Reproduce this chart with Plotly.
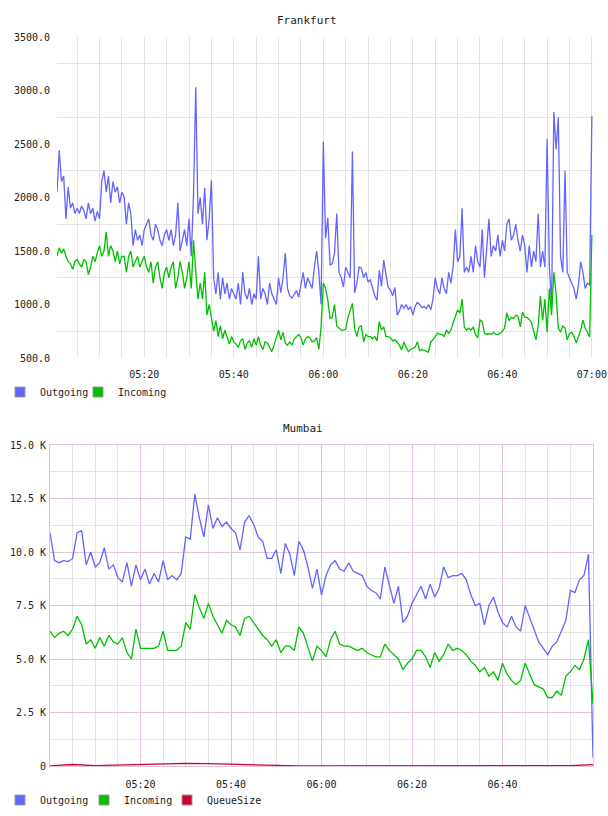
import numpy as np
import pandas as pd
import plotly.graph_objects as go

# ---------------- data ----------------
base = pd.Timestamp("2024-01-01 05:00:00")

# Frankfurt: samples every 30 s from 05:00:30 to 07:00:00
fra_minutes = np.arange(1, 241) * 0.5
fra_time = base + pd.to_timedelta(fra_minutes, unit="m")

fra_outgoing = [
    2050, 2440, 2150, 2200, 1800, 2100, 1900, 1950, 1850, 1900,
    1850, 1920, 1880, 1800, 1950, 1850, 1900, 1780, 1870, 1800,
    2150, 2250, 2050, 2200, 1950, 2150, 2050, 2100, 1950, 2050,
    2000, 1750, 1950, 1850, 1550, 1700, 1600, 1650, 1550, 1700,
    1750, 1800, 1650, 1600, 1750, 1700, 1600, 1550, 1650, 1700,
    1600, 1700, 1550, 1650, 1950, 1500, 1600, 1700, 1550, 1800,
    1450, 2030, 3030, 1850, 2000, 1750, 2090, 1600, 1800, 2160,
    1250, 1100, 1300, 1050, 1250, 1100, 1200, 1050, 1150, 1100,
    1050, 1200, 1000, 1300, 1100, 1050, 1150, 1000, 1100, 1050,
    1450, 1050, 1150, 1100, 1000, 1200, 1100, 1050, 1000, 1250,
    1110, 1250, 1480, 1150, 1080, 1060, 1100, 1130, 1070, 1200,
    1300, 1150, 1250, 1200, 1150, 1350, 1500, 1300, 1000, 2520,
    1620, 1810, 1370, 1380, 1480, 1850, 1300, 1250, 1165, 1350,
    1300, 1250, 2430, 1110, 1200, 1350, 1340, 1250, 1300, 1210,
    1230, 1150, 1080, 1040, 1320, 1170, 1415, 1280, 1160, 1135,
    1080, 1160, 900, 940, 1000, 965, 1000, 950, 980, 900,
    980, 1020, 1000, 970, 980, 960, 1000, 950, 1050, 1250,
    1150, 1100, 1250, 1150, 1100, 1300, 1200, 1350, 1700, 1400,
    1450, 1900, 1300, 1350, 1300, 1450, 1300, 1550, 1400, 1350,
    1700, 1250, 1500, 1800, 1450, 1550, 1500, 1650, 1450, 1600,
    1500, 1750, 1800, 1600, 1650, 1750, 1600, 1500, 1650, 1550,
    1300, 1550, 1350, 1500, 1400, 1850, 1350, 1500, 1350, 2550,
    1350, 1000, 2800, 2450, 2750, 1450, 1300, 2250, 1300, 1250,
    1200, 1150, 1050, 1180, 1400, 1300, 1150, 1200, 1180, 2760,
]

fra_incoming = [
    1450, 1530, 1480, 1520, 1450, 1400, 1380, 1330, 1400, 1420,
    1380, 1350, 1420, 1400, 1280, 1350, 1450, 1400, 1480, 1550,
    1450, 1500, 1680, 1450, 1550, 1500, 1400, 1500, 1380, 1450,
    1450, 1300, 1450, 1500, 1350, 1400, 1450, 1350, 1400, 1450,
    1350, 1300, 1400, 1200, 1350, 1400, 1250, 1150, 1300, 1350,
    1250, 1350, 1400, 1150, 1250, 1400, 1300, 1150, 1250, 1400,
    1150, 1600, 1300, 1050, 1200, 1050, 1300, 900, 1000, 850,
    750, 850, 700, 800, 680, 760, 700, 630, 700, 650,
    630, 600, 660, 680, 580, 640, 660, 600, 680, 620,
    700, 620, 580, 650, 640, 600, 560, 620, 680, 760,
    670, 740, 640, 620, 650, 620, 680, 700, 720, 690,
    620, 680, 700, 690, 650, 660, 690, 580, 790, 1200,
    1150, 1040, 870, 880, 1000, 800, 780, 760, 760, 770,
    880, 950, 1010, 780, 700, 790, 800, 650, 720, 700,
    700, 680, 700, 660, 840, 760, 790, 700, 700, 690,
    660, 670, 640, 620, 575, 650, 600, 560, 580, 590,
    600, 650, 570, 580, 570, 560, 556, 650, 670, 700,
    733, 720, 720, 700, 762, 730, 760, 827, 900, 950,
    920, 1050, 790, 760, 780, 760, 790, 720, 687, 855,
    840, 730, 720, 730, 720, 740, 720, 720, 730, 750,
    780, 920, 850, 880, 870, 900, 890, 790, 930, 880,
    880, 860, 830, 740, 670, 800, 1080, 850, 1050, 740,
    1150, 900, 1300, 1100, 780, 740, 800, 780, 670, 730,
    740, 700, 640, 700, 760, 855, 780, 740, 696, 1650,
]

# Mumbai: one sample per minute, 05:00 to 07:00
mum_minutes = np.arange(0, 121)
mum_time = base + pd.to_timedelta(mum_minutes, unit="m")

mum_outgoing = [
    10900, 9600, 9500, 9600, 9550, 9700, 10900, 11000, 9400, 10000,
    9300, 9500, 10200, 9200, 9400, 8800, 8600, 9500, 8400, 9400,
    8700, 9200, 8500, 9000, 8600, 9600, 8700, 8900, 8700, 9000,
    10700, 10600, 12700, 11600, 10700, 12200, 11100, 11600, 11200, 11400,
    11100, 10900, 10100, 11400, 11700, 11300, 10700, 10500, 9700, 9700,
    10100, 9000, 10400, 9900, 8900, 10500, 10100, 9300, 8300, 9200,
    8000,
    8900, 9400, 9600, 9200, 9100, 9500, 9100, 9000, 8900, 8400,
    8200, 8100, 7800, 9300, 8500, 7600, 8400, 6700, 7000, 7600,
    8000, 8400, 7800, 8500, 7900, 8300, 9300, 8800, 8900, 8900,
    9000, 8700, 8000, 7500, 7600, 6600, 7500, 7900, 7200, 6700,
    6500, 7000, 6500, 6300, 7500, 6900, 6300, 5800, 5500, 5200,
    5600, 5800, 6300, 6800, 8200, 8100, 8700, 8900, 9900, 400,
]

mum_incoming = [
    6300, 6000, 6200, 6300, 6100, 6400, 7000, 6600, 5700, 5900,
    5500, 6000, 5600, 6100, 5800, 5700, 6000, 5300, 5000, 6400,
    5500, 5500, 5500, 5500, 5600, 6300, 5400, 5400, 5400, 5600,
    6700, 6400, 8000, 7400, 6900, 7600, 7000, 6600, 6200, 6800,
    6600, 6500, 6100, 6900, 7000, 6700, 6400, 6100, 5900, 5600,
    5900, 5300, 5600, 5600, 5400, 6500, 6200, 5600, 4900, 5600,
    5400,
    5100, 5900, 6300, 5700, 5600, 5600, 5500, 5400, 5500, 5300,
    5200, 5100, 5100, 5700, 5400, 5200, 5000, 4500, 4800, 5000,
    5400, 5400, 5100, 4600, 5300, 4900, 5200, 5700, 5400, 5500,
    5400, 5200, 4900, 4700, 4400, 4600, 4200, 4400, 4000, 4800,
    4300, 4000, 3800, 4000, 4800, 4300, 3800, 3700, 3600, 3200,
    3200, 3500, 3300, 4200, 4400, 4700, 4500, 5000, 5900, 2900,
]

# QueueSize, sampled every 5 minutes
queue_minutes = np.arange(0, 121, 5)
queue_time = base + pd.to_timedelta(queue_minutes, unit="m")
mum_queue = [
    10, 70, 20, 50, 90, 120, 125, 110, 80, 40,
    20, 5, 5, 5, 0, 0, 0, 0, 0, 0,
    0, 0, 0, 20, 60,
]

mum_ytickvals = [0, 2500, 5000, 7500, 10000, 12500, 15000]
mum_yticktext = ["0", "2.5 K", "5.0 K", "7.5 K", "10.0 K", "12.5 K", "15.0 K"]
mum_xtickvals = [base + pd.Timedelta(minutes=m) for m in (20, 40, 60, 80, 100)]

C_OUT = "#6464ff"
C_IN = "#00c000"
C_Q = "#cc0033"

# ---------------- figure ----------------
W, H = 608, 816
MONO = "DejaVu Sans Mono"
fig = go.Figure()

def line(x, y, color, xa, ya):
    return go.Scatter(x=x, y=y, mode="lines", line=dict(color=color, width=1.3),
                      showlegend=False, xaxis=xa, yaxis=ya, hoverinfo="x+y")

def legend_item(name, color, xa, ya, lg):
    return go.Scatter(x=[None], y=[None], mode="markers", name=name,
                      marker=dict(symbol="square", size=10, color=color,
                                  line=dict(color="#999999", width=1)),
                      xaxis=xa, yaxis=ya, legend=lg)

fig.add_trace(line(fra_time, fra_outgoing, C_OUT, "x", "y"))
fig.add_trace(line(fra_time, fra_incoming, C_IN, "x", "y"))
fig.add_trace(legend_item("Outgoing", C_OUT, "x", "y", "legend"))
fig.add_trace(legend_item("Incoming", C_IN, "x", "y", "legend2"))

fig.add_trace(line(mum_time, mum_outgoing, C_OUT, "x2", "y2"))
fig.add_trace(line(mum_time, mum_incoming, C_IN, "x2", "y2"))
fig.add_trace(line(queue_time, mum_queue, C_Q, "x2", "y2"))
fig.add_trace(legend_item("Outgoing", C_OUT, "x2", "y2", "legend3"))
fig.add_trace(legend_item("Incoming", C_IN, "x2", "y2", "legend4"))
fig.add_trace(legend_item("QueueSize", C_Q, "x2", "y2", "legend5"))

GRID = "#e4e4e4"
PURPLE = "rgb(222,196,222)"
tickfont = dict(family=MONO, size=10, color="#222222")
MS20 = 20 * 60 * 1000
MS5 = 5 * 60 * 1000

def leg(xpx, ypx):
    return dict(orientation="h", x=xpx / W, xanchor="left", y=1 - ypx / H,
                yanchor="middle", font=dict(family=MONO, size=10, color="#222222"),
                bgcolor="rgba(0,0,0,0)", itemwidth=30, itemclick=False)

fig.update_layout(
    width=W, height=H,
    margin=dict(l=0, r=0, t=0, b=0),
    paper_bgcolor="white", plot_bgcolor="white",
    showlegend=True,
    xaxis=dict(
        domain=[57 / W, 593 / W], anchor="y", type="date",
        range=[base + pd.Timedelta(minutes=0.5), base + pd.Timedelta(minutes=120.25)],
        tickformat="%H:%M", tick0=base, dtick=MS20,
        showgrid=True, gridcolor=GRID, gridwidth=1,
        minor=dict(tick0=base, dtick=MS5, showgrid=True, gridcolor=GRID),
        zeroline=False, showline=False, ticks="", ticklabelstandoff=9,
        tickfont=tickfont, automargin=False,
    ),
    yaxis=dict(
        domain=[1 - 358 / H, 1 - 37 / H], anchor="x",
        range=[500, 3500], tick0=500, dtick=500, tickformat=".1f",
        showgrid=False,
        minor=dict(tick0=750, dtick=500, showgrid=True, gridcolor=GRID),
        zeroline=False, showline=False, ticks="", ticklabelstandoff=6,
        tickfont=tickfont, automargin=False,
    ),
    xaxis2=dict(
        domain=[50 / W, 593 / W], anchor="y2", type="date",
        range=[base, base + pd.Timedelta(minutes=120)],
        tickformat="%H:%M", tickmode="array", tickvals=mum_xtickvals,
        showgrid=True, gridcolor=PURPLE, gridwidth=1,
        minor=dict(tick0=base, dtick=MS5, showgrid=True, gridcolor=GRID),
        zeroline=False, showline=True, mirror=True, linecolor=PURPLE, linewidth=1,
        ticks="", ticklabelstandoff=9, tickfont=tickfont, automargin=False,
    ),
    yaxis2=dict(
        domain=[1 - 766 / H, 1 - 445 / H], anchor="x2",
        range=[0, 15000], tickmode="array",
        tickvals=mum_ytickvals, ticktext=mum_yticktext,
        showgrid=True, gridcolor=PURPLE, gridwidth=1,
        minor=dict(tick0=0, dtick=1250, showgrid=True, gridcolor=GRID),
        zeroline=False, showline=True, mirror=True, linecolor=PURPLE, linewidth=1,
        ticks="", ticklabelstandoff=1, tickfont=tickfont, automargin=False,
    ),
    legend=leg(0, 392),
    legend2=leg(78, 392),
    legend3=leg(0, 800),
    legend4=leg(84, 800),
    legend5=leg(167, 800),
    annotations=[
        dict(text="Frankfurt", x=0.505, y=1 - 20 / H, xref="paper", yref="paper",
             xanchor="center", yanchor="middle", showarrow=False,
             font=dict(family=MONO, size=11, color="#222222")),
        dict(text="Mumbai", x=0.498, y=1 - 428 / H, xref="paper", yref="paper",
             xanchor="center", yanchor="middle", showarrow=False,
             font=dict(family=MONO, size=11, color="#222222")),
    ],
)

fig.write_html("out.html")
